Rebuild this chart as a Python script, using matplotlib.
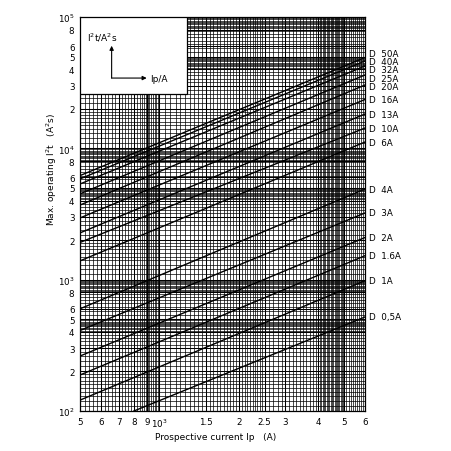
"""I2t characteristic of D-type fuses, log-log chart with dense paper grid."""
import numpy as np
import matplotlib
matplotlib.use("Agg")
import matplotlib.pyplot as plt
from matplotlib.patches import Rectangle

# fuse ratings and their I2t line end points
ratings = ["50A", "40A", "32A", "25A", "20A", "16A", "13A", "10A", "6A",
           "4A", "3A", "2A", "1.6A", "1A", "0,5A"]
x_start = [500, 500, 500, 500, 500, 500, 500, 500, 500,
           500, 500, 500, 500, 500, 800]
y_start = [6200, 5850, 5350, 4500, 3700, 2950, 2270, 1920, 1390,
           600, 410, 262, 188, 121, 100]
x_end = [6000] * 15
y_end = [49150, 46240, 42360, 36170, 30360, 23540, 18250, 14280, 11170,
         4900, 3220, 2094, 1522, 982, 520]
label_y = [52270, 45660, 39690, 34140, 29470, 23540, 18250, 14280, 11170,
           4900, 3220, 2094, 1522, 982, 520]

x_ticks = [500, 600, 700, 800, 900, 1000, 1500, 2000, 2500, 3000, 4000, 5000, 6000]
x_ticklabels = ["5", "6", "7", "8", "9", "$10^3$", "1.5", "2", "2.5", "3", "4", "5", "6"]
y_ticks = [100, 200, 300, 400, 500, 600, 800,
           1000, 2000, 3000, 4000, 5000, 6000, 8000,
           10000, 20000, 30000, 40000, 50000, 60000, 80000, 100000]
y_ticklabels = ["$10^2$", "2", "3", "4", "5", "6", "8",
                "$10^3$", "2", "3", "4", "5", "6", "8",
                "$10^4$", "2", "3", "4", "5", "6", "8", "$10^5$"]


def main():
    fig = plt.figure(figsize=(4.52, 4.52), dpi=100)
    ax = fig.add_axes([0.177, 0.0885, 0.6305, 0.8717])
    ax.set_xscale("log")
    ax.set_yscale("log")
    ax.set_xlim(500, 6000)
    ax.set_ylim(100, 100000)

    # paper grid - a bit denser in some bands like the printed sheet
    vgrid = np.concatenate([np.arange(500, 860, 20), np.arange(860, 1000, 14),
                            np.arange(1000, 2500, 50), np.arange(2500, 4000, 100),
                            np.arange(4000, 5000, 50), np.arange(5000, 6001, 100)])
    hgrid = []
    for d in [100, 1000, 10000]:
        hgrid += list(d * np.concatenate([np.arange(1, 2, 0.1), np.arange(2, 4, 0.2),
                                          np.arange(4, 5, 0.1), np.arange(5, 8, 0.4),
                                          np.arange(8, 10, 0.2)]))
    ax.vlines(vgrid, 100, 100000, colors="black", lw=0.5, zorder=1)
    ax.hlines(hgrid, 500, 6000, colors="black", lw=0.5, zorder=1)
    ax.vlines(x_ticks, 100, 100000, colors="black", lw=0.75, zorder=1)
    ax.hlines(y_ticks, 500, 6000, colors="black", lw=0.75, zorder=1)

    for name, x0, y0, x1, y1, ly in zip(ratings, x_start, y_start, x_end, y_end, label_y):
        ax.plot([x0, x1], [y0, y1], color="black", lw=1.0, zorder=3)
        ax.annotate(f"D  {name}", xy=(6000, ly), xytext=(3, 0), textcoords="offset points",
                    va="center", ha="left", fontsize=6.3, annotation_clip=False)

    ax.xaxis.set_minor_locator(matplotlib.ticker.NullLocator())
    ax.yaxis.set_minor_locator(matplotlib.ticker.NullLocator())
    ax.set_xticks(x_ticks)
    ax.set_xticklabels(x_ticklabels)
    ax.set_yticks(y_ticks)
    ax.set_yticklabels(y_ticklabels)
    ax.tick_params(length=0, labelsize=6.3, pad=4)
    for s in ax.spines.values():
        s.set_linewidth(0.9)

    # white inset box with the axis sketch
    ax.add_patch(Rectangle((0, 0.8046), 0.3754, 0.1954, transform=ax.transAxes,
                           facecolor="white", edgecolor="black", lw=0.9, zorder=4))
    ax.annotate("", xy=(0.111, 0.927), xytext=(0.111, 0.845), xycoords="axes fraction",
                arrowprops=dict(arrowstyle="-|>", lw=0.8, color="black",
                                mutation_scale=6, shrinkA=0, shrinkB=0), zorder=5)
    ax.annotate("", xy=(0.234, 0.845), xytext=(0.111, 0.845), xycoords="axes fraction",
                arrowprops=dict(arrowstyle="-|>", lw=0.8, color="black",
                                mutation_scale=6, shrinkA=0, shrinkB=0), zorder=5)
    ax.text(0.077, 0.949, "I$^2$t/A$^2$s", transform=ax.transAxes, ha="center",
            va="center", fontsize=6.5, zorder=5)
    ax.text(0.245, 0.845, "Ip/A", transform=ax.transAxes, ha="left",
            va="center", fontsize=6.5, zorder=5)

    fig.text(0.115, 0.625, "Max. operating I$^2$t   (A$^2$s)", rotation=90,
             ha="center", va="center", fontsize=6.5)
    fig.text(0.476, 0.032, "Prospective current Ip   (A)", ha="center",
             va="center", fontsize=6.5)

    fig.savefig("out.png", dpi=100)
    plt.close(fig)


if __name__ == "__main__":
    main()
